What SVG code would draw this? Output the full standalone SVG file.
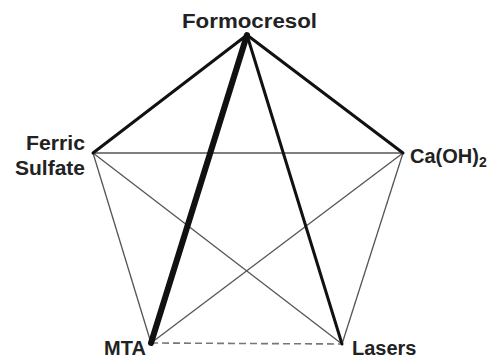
<svg xmlns="http://www.w3.org/2000/svg" width="493" height="358" viewBox="0 0 493 358">
<style>
.lbl{font-family:"Liberation Sans",Arial,sans-serif;font-weight:bold;font-size:20px;fill:#222}
.thin{stroke:#555;stroke-width:1.3;fill:none}
.thick{stroke:#111;stroke-width:3;fill:none;stroke-linecap:round}
.heavy{stroke:#111;stroke-width:6;fill:none;stroke-linecap:round}
.dash{stroke:#777;stroke-width:1.6;stroke-dasharray:7 4;fill:none}
</style>
<rect width="493" height="358" fill="#fff"/>
<g id="connectors">
<line class="thin" x1="93" y1="153" x2="403" y2="153"/>
<line class="thin" x1="93" y1="153" x2="151" y2="343"/>
<line class="thin" x1="93" y1="153" x2="342" y2="344"/>
<line class="thin" x1="403" y1="153" x2="151" y2="343"/>
<line class="thin" x1="403" y1="153" x2="342" y2="344"/>
<line class="dash" x1="151" y1="343" x2="342" y2="344"/>
<line class="thick" x1="247" y1="35" x2="93" y2="153"/>
<line class="thick" x1="247" y1="35" x2="403" y2="153"/>
<line class="thick" x1="247" y1="35" x2="342" y2="344"/>
<line class="heavy" x1="247" y1="35" x2="151" y2="343"/>
</g>
<g id="formocresol"><text class="lbl" x="182" y="28" textLength="135" lengthAdjust="spacingAndGlyphs">Formocresol</text></g>
<g id="ferric-sulfate">
<text class="lbl" x="85" y="150" text-anchor="end" textLength="59" lengthAdjust="spacingAndGlyphs">Ferric</text>
<text class="lbl" x="85" y="175" text-anchor="end" textLength="70" lengthAdjust="spacingAndGlyphs">Sulfate</text>
</g>
<g id="caoh2"><text class="lbl" x="410" y="163">Ca(OH)<tspan font-size="14" dy="4">2</tspan></text></g>
<g id="mta"><text class="lbl" x="104" y="355">MTA</text></g>
<g id="lasers"><text class="lbl" x="352" y="355">Lasers</text></g>
</svg>
